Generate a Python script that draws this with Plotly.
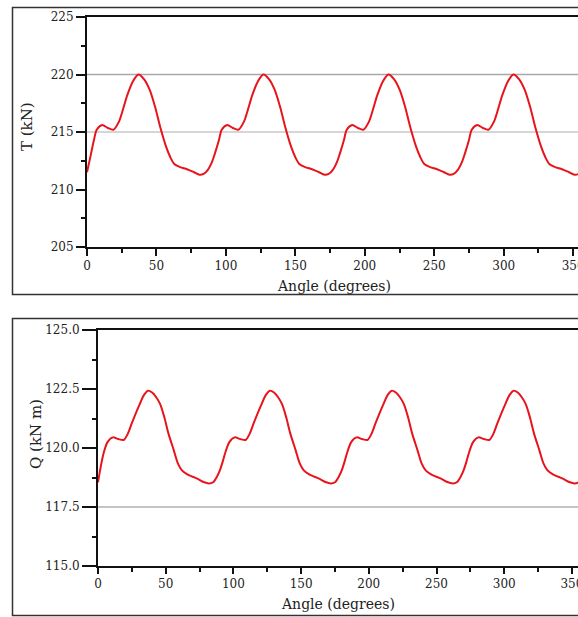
import plotly.graph_objects as go

# ---- data ----
angle_T = [0, 2, 5, 7, 11, 15, 19, 23, 26, 29, 33, 37, 41, 45, 49, 53, 57, 60, 63, 67, 72, 77, 81, 84, 87,
           90, 92, 95, 97, 101, 105, 109, 113, 116, 119, 123, 127, 131, 135, 139, 143, 147, 150, 153, 157, 162, 167, 171, 174, 177,
           180, 182, 185, 187, 191, 195, 199, 203, 206, 209, 213, 217, 221, 225, 229, 233, 237, 240, 243, 247, 252, 257, 261, 264, 267,
           270, 272, 275, 277, 281, 285, 289, 293, 296, 299, 303, 307, 311, 315, 319, 323, 327, 330, 333, 337, 342, 347, 351, 354, 357]
thrust_T = [211.5, 212.6, 214.3, 215.2, 215.6, 215.35, 215.2, 215.9, 217.0, 218.2, 219.4, 220.0, 219.6, 218.7, 217.2, 215.3, 213.7, 212.8, 212.2, 211.95, 211.76, 211.5, 211.28, 211.35, 211.7,
            212.4, 213.1, 214.3, 215.2, 215.6, 215.35, 215.2, 215.9, 217.0, 218.2, 219.4, 220.0, 219.6, 218.7, 217.2, 215.3, 213.7, 212.8, 212.2, 211.95, 211.76, 211.5, 211.28, 211.35, 211.7,
            212.4, 213.1, 214.3, 215.2, 215.6, 215.35, 215.2, 215.9, 217.0, 218.2, 219.4, 220.0, 219.6, 218.7, 217.2, 215.3, 213.7, 212.8, 212.2, 211.95, 211.76, 211.5, 211.28, 211.35, 211.7,
            212.4, 213.1, 214.3, 215.2, 215.6, 215.35, 215.2, 215.9, 217.0, 218.2, 219.4, 220.0, 219.6, 218.7, 217.2, 215.3, 213.7, 212.8, 212.2, 211.95, 211.76, 211.5, 211.28, 211.35, 211.7]

angle_Q = [0, 2, 4, 7, 11, 15, 19, 22, 25, 30, 34, 37, 40, 43, 46, 49, 52, 56, 59, 62, 66, 70, 74, 78, 82, 85, 88,
           90, 92, 94, 97, 101, 105, 109, 112, 115, 120, 124, 127, 130, 133, 136, 139, 142, 146, 149, 152, 156, 160, 164, 168, 172, 175, 178,
           180, 182, 184, 187, 191, 195, 199, 202, 205, 210, 214, 217, 220, 223, 226, 229, 232, 236, 239, 242, 246, 250, 254, 258, 262, 265, 268,
           270, 272, 274, 277, 281, 285, 289, 292, 295, 300, 304, 307, 310, 313, 316, 319, 322, 326, 329, 332, 336, 340, 344, 348, 352, 355, 358]
torque_Q = [118.55, 119.2, 119.75, 120.25, 120.45, 120.38, 120.34, 120.6, 121.05, 121.75, 122.25, 122.43, 122.35, 122.15, 121.85, 121.3, 120.62, 119.9, 119.35, 119.05, 118.88, 118.78, 118.68, 118.56, 118.5, 118.55, 118.8,
            119.05, 119.4, 119.8, 120.25, 120.45, 120.38, 120.34, 120.6, 121.05, 121.75, 122.25, 122.43, 122.35, 122.15, 121.85, 121.3, 120.62, 119.9, 119.35, 119.05, 118.88, 118.78, 118.68, 118.56, 118.5, 118.55, 118.8,
            119.05, 119.4, 119.8, 120.25, 120.45, 120.38, 120.34, 120.6, 121.05, 121.75, 122.25, 122.43, 122.35, 122.15, 121.85, 121.3, 120.62, 119.9, 119.35, 119.05, 118.88, 118.78, 118.68, 118.56, 118.5, 118.55, 118.8,
            119.05, 119.4, 119.8, 120.25, 120.45, 120.38, 120.34, 120.6, 121.05, 121.75, 122.25, 122.43, 122.35, 122.15, 121.85, 121.3, 120.62, 119.9, 119.35, 119.05, 118.88, 118.78, 118.68, 118.56, 118.5, 118.55, 118.8]

x_ticks = [0, 50, 100, 150, 200, 250, 300, 350]
T_ticks = [205, 210, 215, 220, 225]
Q_ticks = [115.0, 117.5, 120.0, 122.5, 125.0]
T_grid = [215, 220]
Q_grid = [117.5]

W, H = 578, 617
FONT = "DejaVu Serif, Liberation Serif, serif"
TXT = "#222222"
RED = "#e8141b"

fig = go.Figure()
fig.add_trace(go.Scatter(x=angle_T, y=thrust_T, mode="lines",
                         line=dict(color=RED, width=2, shape="spline", smoothing=0.8),
                         xaxis="x", yaxis="y", showlegend=False))
fig.add_trace(go.Scatter(x=angle_Q, y=torque_Q, mode="lines",
                         line=dict(color=RED, width=2, shape="spline", smoothing=0.8),
                         xaxis="x2", yaxis="y2", showlegend=False))

def px_x(p):
    return p / W

def px_y(p):
    return 1 - p / H

xr1 = [0, (W - 87) / 1.389]
xr2 = [0, (W - 98) / 1.354]

common_axis = dict(showline=True, linecolor="#111111", linewidth=2, showgrid=False,
                   zeroline=False, ticks="outside", tickcolor="#111111", tickwidth=2,
                   automargin=False, ticklabeloverflow="allow",
                   tickfont=dict(family=FONT, size=12, color=TXT))

fig.update_layout(
    template="none",
    width=W, height=H,
    margin=dict(l=0, r=0, t=0, b=0, pad=0),
    paper_bgcolor="white", plot_bgcolor="white",
    xaxis=dict(common_axis, domain=[px_x(87), 1], range=xr1, anchor="y",
               tickvals=x_ticks, ticklen=7, mirror=True,
               minor=dict(ticks="outside", dtick=25, tick0=0, ticklen=4, tickcolor="#111111", tickwidth=2)),
    yaxis=dict(common_axis, domain=[px_y(247), px_y(17)], range=[205, 225], anchor="x",
               tickvals=T_ticks, ticklen=9,
               minor=dict(ticks="outside", dtick=2.5, tick0=205, ticklen=4, tickcolor="#111111", tickwidth=2)),
    xaxis2=dict(common_axis, domain=[px_x(98), 1], range=xr2, anchor="y2",
                tickvals=x_ticks, ticklen=6, mirror=True,
                minor=dict(ticks="outside", dtick=25, tick0=0, ticklen=4, tickcolor="#111111", tickwidth=2)),
    yaxis2=dict(common_axis, domain=[px_y(566), px_y(330)], range=[115, 125], anchor="x2",
                tickvals=Q_ticks, tickformat=".1f", ticklen=14,
                minor=dict(ticks="outside", dtick=1.25, tick0=115, ticklen=4, tickcolor="#111111", tickwidth=2)),
)

shapes = []
# gridlines
for g in T_grid:
    shapes.append(dict(type="line", xref="x", yref="y", x0=0, x1=xr1[1], y0=g, y1=g,
                       line=dict(color="#a8a8a8" if g == 220 else "#c8c8c8", width=1.5), layer="below"))
for g in Q_grid:
    shapes.append(dict(type="line", xref="x2", yref="y2", x0=0, x1=xr2[1], y0=g, y1=g,
                       line=dict(color="#b0b0b0", width=1.5), layer="below"))
# outer panel frames
shapes.append(dict(type="rect", xref="paper", yref="paper",
                   x0=px_x(12.5), x1=1.02, y0=px_y(294.5), y1=px_y(7.5),
                   line=dict(color="#333333", width=1.5), fillcolor="rgba(0,0,0,0)"))
shapes.append(dict(type="rect", xref="paper", yref="paper",
                   x0=px_x(12.5), x1=1.02, y0=px_y(615.5), y1=px_y(318.5),
                   line=dict(color="#333333", width=1.5), fillcolor="rgba(0,0,0,0)"))
fig.update_layout(shapes=shapes)

annotations = [
    dict(text="Angle (degrees)", x=px_x(334), y=px_y(286), xref="paper", yref="paper",
         showarrow=False, xanchor="center", yanchor="middle", font=dict(family=FONT, size=14, color=TXT)),
    dict(text="Angle (degrees)", x=px_x(338), y=px_y(604), xref="paper", yref="paper",
         showarrow=False, xanchor="center", yanchor="middle", font=dict(family=FONT, size=14, color=TXT)),
    dict(text="T (kN)", x=px_x(27), y=px_y(127), xref="paper", yref="paper", textangle=-90,
         showarrow=False, xanchor="center", yanchor="middle", font=dict(family=FONT, size=15, color=TXT)),
    dict(text="Q (kN m)", x=px_x(36), y=px_y(434), xref="paper", yref="paper", textangle=-90,
         showarrow=False, xanchor="center", yanchor="middle", font=dict(family=FONT, size=15, color=TXT)),
]
fig.update_layout(annotations=annotations)

fig.write_html("out.html", config={"displayModeBar": False},
               post_script="document.body.style.margin='0';document.body.style.overflow='hidden';")
